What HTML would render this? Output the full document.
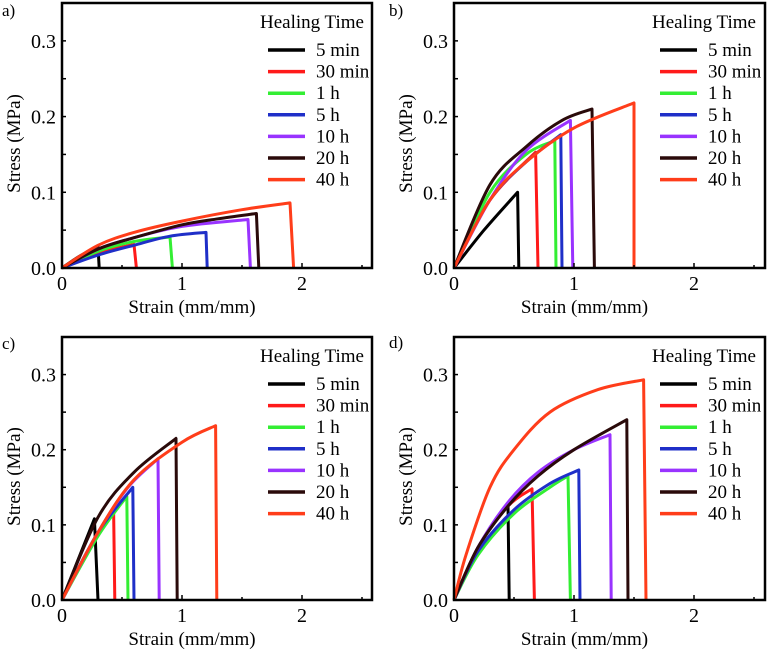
<!DOCTYPE html>
<html><head><meta charset="utf-8"><style>
html,body{margin:0;padding:0;background:#fff;}
svg{display:block;}
</style></head><body>
<svg id="fig" width="767" height="651" viewBox="0 0 767 651"></svg>
<script>
const seriesLabels = ["5 min","30 min","1 h","5 h","10 h","20 h","40 h"];
const seriesColors = ["#000000","#ff1a1a","#33ee33","#1f2fc8","#9933ff","#2a0a0a","#ff3d1a"];
const xTicks = [0,1,2];
const yTicks = [0.0,0.1,0.2,0.3];
const yTickLabels = ["0.0","0.1","0.2","0.3"];
// panel a
const aStrain = [[0,0.15,0.3],[0,0.3,0.6],[0,0.3,0.6,0.9],[0,0.3,0.6,0.9,1.2],[0,0.3,0.6,1.0,1.55],[0,0.3,0.6,1.0,1.3,1.62],[0,0.3,0.6,1.0,1.5,1.9]];
const aStress = [[0,0.016,0.028],[0,0.02,0.031],[0,0.022,0.035,0.041],[0,0.017,0.03,0.042,0.047],[0,0.025,0.04,0.055,0.064],[0,0.025,0.04,0.057,0.065,0.072],[0,0.03,0.047,0.062,0.077,0.086]];
const aBreak = [0.31,0.62,0.92,1.21,1.57,1.64,1.93];
// panel b
const bStrain = [[0,0.25,0.53],[0,0.3,0.68],[0,0.3,0.6,0.84],[0,0.3,0.6,0.89],[0,0.3,0.6,0.97],[0,0.3,0.6,0.9,1.15],[0,0.3,0.6,1.0,1.5]];
const bStress = [[0,0.05,0.1],[0,0.09,0.153],[0,0.1,0.15,0.168],[0,0.09,0.14,0.176],[0,0.09,0.155,0.195],[0,0.11,0.16,0.195,0.21],[0,0.09,0.14,0.185,0.218]];
const bBreak = [0.54,0.7,0.85,0.9,0.99,1.17,1.5];
// panel c
const cStrain = [[0,0.15,0.27],[0,0.2,0.43],[0,0.3,0.54],[0,0.3,0.59],[0,0.3,0.55,0.8],[0,0.3,0.6,0.95],[0,0.3,0.6,1.0,1.28]];
const cStress = [[0,0.06,0.108],[0,0.06,0.12],[0,0.085,0.138],[0,0.09,0.15],[0,0.09,0.15,0.188],[0,0.11,0.17,0.215],[0,0.09,0.16,0.21,0.232]];
const cBreak = [0.3,0.44,0.55,0.6,0.81,0.96,1.29];
// panel d
const dStrain = [[0,0.2,0.45],[0,0.2,0.45,0.65],[0,0.2,0.5,0.8,0.95],[0,0.2,0.5,0.8,1.04],[0,0.2,0.45,0.7,1.0,1.3],[0,0.2,0.45,0.7,1.0,1.44],[0,0.1,0.3,0.5,0.8,1.2,1.58]];
const dStress = [[0,0.07,0.127],[0,0.07,0.125,0.148],[0,0.06,0.115,0.15,0.165],[0,0.065,0.12,0.155,0.173],[0,0.07,0.13,0.17,0.2,0.22],[0,0.07,0.125,0.165,0.2,0.24],[0,0.06,0.15,0.2,0.25,0.28,0.293]];
const dBreak = [0.46,0.67,0.97,1.05,1.31,1.45,1.6];

const NS="http://www.w3.org/2000/svg";
const svg=document.getElementById('fig');
const FONT="'Liberation Serif','DejaVu Serif',serif";
function mk(tag,attrs,parent){const e=document.createElementNS(NS,tag);for(const k in attrs)e.setAttribute(k,attrs[k]);(parent||svg).appendChild(e);return e;}
function txt(x,y,size,s,parent,extra){const t=mk('text',Object.assign({x:x,y:y,'font-family':FONT,'font-size':size},extra||{}),parent);t.textContent=s;return t;}
function smooth(pts){
  let d="M"+pts[0][0].toFixed(1)+","+pts[0][1].toFixed(1);
  for(let i=0;i<pts.length-1;i++){
    const p0=pts[Math.max(0,i-1)],p1=pts[i],p2=pts[i+1],p3=pts[Math.min(pts.length-1,i+2)];
    const c1=[p1[0]+(p2[0]-p0[0])/6,p1[1]+(p2[1]-p0[1])/6];
    const c2=[p2[0]-(p3[0]-p1[0])/6,p2[1]-(p3[1]-p1[1])/6];
    d+="C"+c1[0].toFixed(1)+","+c1[1].toFixed(1)+" "+c2[0].toFixed(1)+","+c2[1].toFixed(1)+" "+p2[0].toFixed(1)+","+p2[1].toFixed(1);
  }
  return d;
}

const panels=[
 {id:"a",L:62,R:372,T:3,B:268,strain:aStrain,stress:aStress,brk:aBreak,lx:2,ly:16},
 {id:"b",L:454,R:765,T:3,B:268,strain:bStrain,stress:bStress,brk:bBreak,lx:389,ly:16},
 {id:"c",L:62,R:372,T:337,B:600,strain:cStrain,stress:cStress,brk:cBreak,lx:2,ly:349},
 {id:"d",L:454,R:765,T:337,B:600,strain:dStrain,stress:dStress,brk:dBreak,lx:389,ly:348}
];
panels.forEach(p=>{
  const g=mk('g',{});
  
  
  const xs=v=>p.L+v*120;
  const ys=v=>p.B-v*(p.B-p.T)/0.35;
  const lab=txt(p.lx,p.ly,17,p.id+")",g);
  
  
  const cg=mk('g',{},g);
  for(let i=0;i<seriesLabels.length;i++){
    const sx=p.strain[i],sy=p.stress[i];
    const pts=sx.map((v,j)=>[xs(v),ys(sy[j])]);
    let d=smooth(pts);
    d+="L"+xs(p.brk[i]).toFixed(1)+","+ys(0).toFixed(1);
    const path=mk('path',{d:d,fill:'none',stroke:seriesColors[i],'stroke-width':3,'stroke-linejoin':'round'},cg);
    
    
  }
  const fr=mk('rect',{x:p.L,y:p.T,width:p.R-p.L,height:p.B-p.T,fill:'none',stroke:'#000','stroke-width':2.5},g);
  
  
  [0,0.5,1,1.5,2,2.5].forEach(v=>{const len=(v%1===0)?5:3;mk('line',{x1:xs(v),x2:xs(v),y1:p.B,y2:p.B-len,stroke:'#000','stroke-width':1.5},g);});
  [0.05,0.1,0.15,0.2,0.25,0.3].forEach(v=>{mk('line',{x1:p.L,x2:p.L+4,y1:ys(v),y2:ys(v),stroke:'#000','stroke-width':1.5},g);});
  xTicks.forEach(v=>{const t=txt(xs(v),p.B+22,20,String(v),g,{'text-anchor':'middle'});
    
    });
  yTicks.forEach((v,k)=>{const t=txt(p.L-6,ys(v)+7,20,yTickLabels[k],g,{'text-anchor':'end'});
    
    });
  const xt=txt((p.L+p.R)/2-25,p.B+45,19,"Strain (mm/mm)",g,{'text-anchor':'middle'});
  
  
  const cy=(p.T+p.B)/2+8;
  const yt=txt(p.L-42,cy,19,"Stress (MPa)",g,{'text-anchor':'middle',transform:`rotate(-90 ${p.L-42} ${cy})`});
  
  
  const lg=mk('g',{},g);
  
  
  const tt=txt(p.L+198,p.T+25,19,"Healing Time",lg);
  
  
  seriesLabels.forEach((s,i)=>{
    const y=p.T+47+i*21.6;
    const ln=mk('line',{x1:p.L+206,x2:p.L+243,y1:y,y2:y,stroke:seriesColors[i],'stroke-width':3.5},lg);
    
    
    const t=txt(p.L+254,y+6,19,s,lg);
    
    
  });
});
</script>
</body></html>
